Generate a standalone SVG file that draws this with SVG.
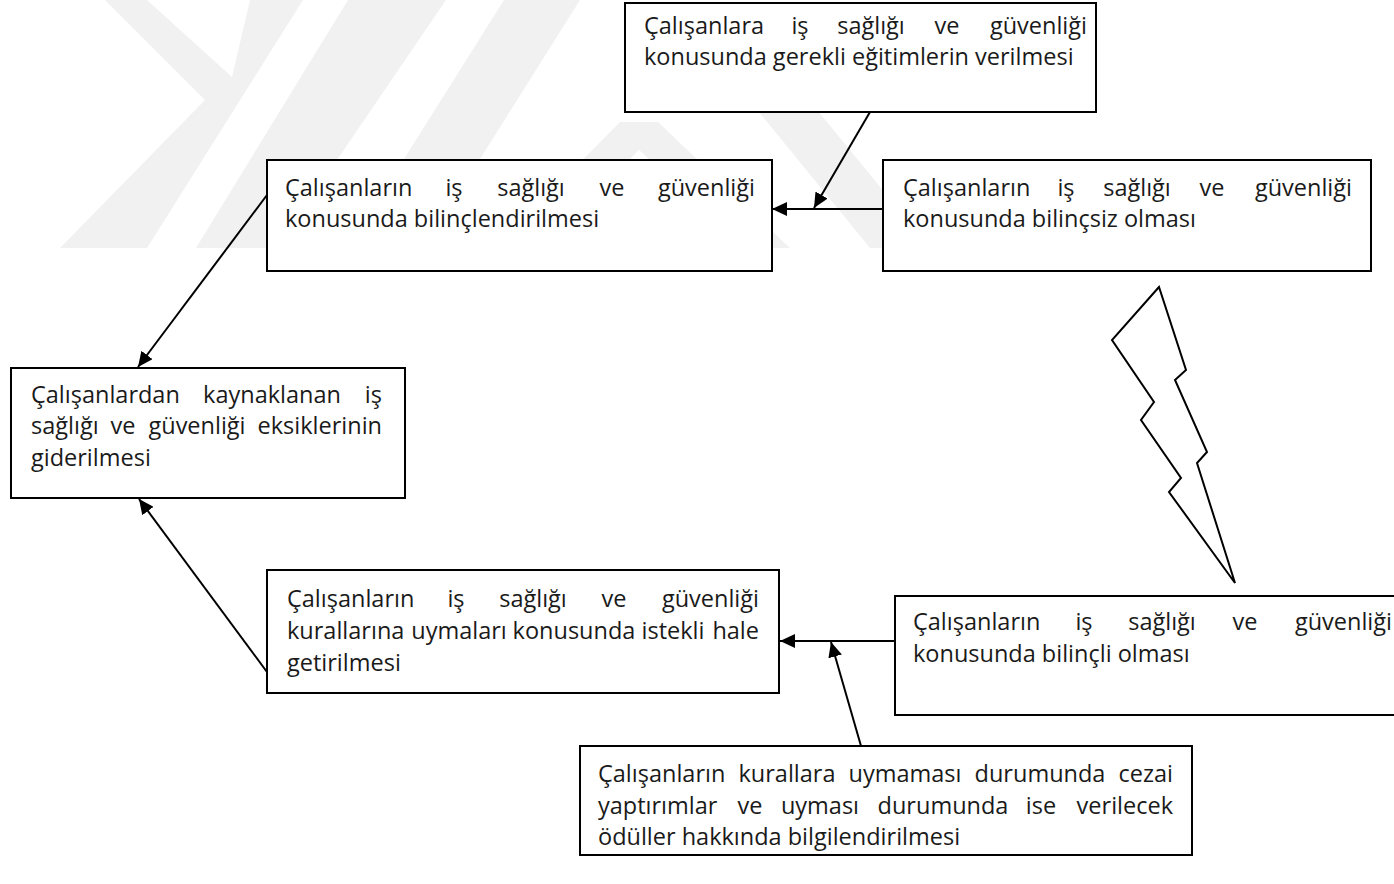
<svg xmlns="http://www.w3.org/2000/svg" width="1394" height="884" viewBox="0 0 1394 884">
  <style>
    .box { fill: #ffffff; stroke: #000000; stroke-width: 2; }
    .t { font-family: "Open Sans", "Liberation Sans", sans-serif; font-size: 23.5px; fill: #1a1a1a; }
    .m { text-anchor: middle; }
    .e { text-anchor: end; }
    .link { fill: none; stroke: #000000; stroke-width: 2; }
    .wm { fill: #f1f1f1; }
  </style>
  <defs>
    <marker id="arrow" markerUnits="userSpaceOnUse" markerWidth="16" markerHeight="14" refX="15" refY="7" orient="auto">
      <path d="M0,0 L15,7 L0,14 z" fill="#000000"/>
    </marker>
  </defs>

  <rect width="1394" height="884" fill="#ffffff"/>

  <!-- faint background emblem -->
  <g id="emblem">
    <polygon class="wm" points="105,0 147,0 232,77 250,0 303,0 147,248 60,248 205,100"/>
    <polygon class="wm" points="348,0 446,0 277,248 196,248"/>
    <polygon class="wm" points="504,0 580,0 424,248 348,248"/>
    <polygon class="wm" points="620,122 658,122 790,248 745,248 639,150 540,248 495,248"/>
    <polygon class="wm" points="700,40 760,40 930,248 870,248"/>
  </g>

  <!-- connectors -->
  <g id="connectors">
    <line class="link" x1="870" y1="112" x2="814" y2="208" marker-end="url(#arrow)"/>
    <line class="link" x1="883" y1="209" x2="772" y2="209" marker-end="url(#arrow)"/>
    <line class="link" x1="267" y1="195" x2="138" y2="367" marker-end="url(#arrow)"/>
    <line class="link" x1="267" y1="672" x2="139" y2="499" marker-end="url(#arrow)"/>
    <line class="link" x1="895" y1="641" x2="780" y2="641" marker-end="url(#arrow)"/>
    <line class="link" x1="861" y1="746" x2="831" y2="642" marker-end="url(#arrow)"/>
  </g>

  <!-- lightning bolt -->
  <g id="bolt">
    <polygon points="1159,287 1112,340 1154,402 1141,420 1181,478 1169,492 1235,583 1197,463 1207,452 1175,380 1186,370" fill="#ffffff" stroke="#000000" stroke-width="2" stroke-linejoin="miter"/>
  </g>

  <g id="node-training">
    <rect class="box" x="625" y="3" width="471" height="109"/>
    <text class="t" y="34"><tspan x="644">Çalışanlara</tspan><tspan class="m" x="800">iş</tspan><tspan class="m" x="871">sağlığı</tspan><tspan class="m" x="947">ve</tspan><tspan class="e" x="1087">güvenliği</tspan></text>
    <text class="t" x="644" y="65">konusunda gerekli eğitimlerin verilmesi</text>
  </g>

  <g id="node-awareness">
    <rect class="box" x="267" y="160" width="505" height="111"/>
    <text class="t" y="196"><tspan x="285">Çalışanların</tspan><tspan class="m" x="454">iş</tspan><tspan class="m" x="531">sağlığı</tspan><tspan class="m" x="612">ve</tspan><tspan class="e" x="755">güvenliği</tspan></text>
    <text class="t" x="285" y="227">konusunda bilinçlendirilmesi</text>
  </g>

  <g id="node-unaware">
    <rect class="box" x="883" y="160" width="488" height="111"/>
    <text class="t" y="196"><tspan x="903">Çalışanların</tspan><tspan class="m" x="1066">iş</tspan><tspan class="m" x="1137">sağlığı</tspan><tspan class="m" x="1212">ve</tspan><tspan class="e" x="1352">güvenliği</tspan></text>
    <text class="t" x="903" y="227">konusunda bilinçsiz olması</text>
  </g>

  <g id="node-resolved">
    <rect class="box" x="11" y="368" width="394" height="130"/>
    <text class="t" y="403"><tspan x="31">Çalışanlardan</tspan><tspan class="m" x="272">kaynaklanan</tspan><tspan class="e" x="382">iş</tspan></text>
    <text class="t" y="434"><tspan x="31">sağlığı</tspan><tspan class="m" x="123">ve</tspan><tspan class="m" x="197">güvenliği</tspan><tspan class="e" x="382">eksiklerinin</tspan></text>
    <text class="t" x="31" y="466">giderilmesi</text>
  </g>

  <g id="node-willing">
    <rect class="box" x="267" y="570" width="512" height="123"/>
    <text class="t" y="607"><tspan x="287">Çalışanların</tspan><tspan class="m" x="456">iş</tspan><tspan class="m" x="533">sağlığı</tspan><tspan class="m" x="614">ve</tspan><tspan class="e" x="759">güvenliği</tspan></text>
    <text class="t" y="639"><tspan x="287">kurallarına</tspan><tspan class="m" x="459">uymaları</tspan><tspan class="m" x="574">konusunda</tspan><tspan class="m" x="673">istekli</tspan><tspan class="e" x="759">hale</tspan></text>
    <text class="t" x="287" y="671">getirilmesi</text>
  </g>

  <g id="node-aware">
    <rect class="box" x="895" y="596" width="520" height="119"/>
    <text class="t" y="630"><tspan x="913">Çalışanların</tspan><tspan class="m" x="1084">iş</tspan><tspan class="m" x="1162">sağlığı</tspan><tspan class="m" x="1245">ve</tspan><tspan class="e" x="1392">güvenliği</tspan></text>
    <text class="t" x="913" y="662">konusunda bilinçli olması</text>
  </g>

  <g id="node-sanctions">
    <rect class="box" x="580" y="746" width="612" height="109"/>
    <text class="t" y="782"><tspan x="598">Çalışanların</tspan><tspan class="m" x="787">kurallara</tspan><tspan class="m" x="905">uymaması</tspan><tspan class="m" x="1040">durumunda</tspan><tspan class="e" x="1173">cezai</tspan></text>
    <text class="t" y="814"><tspan x="598">yaptırımlar</tspan><tspan class="m" x="750">ve</tspan><tspan class="m" x="820">uyması</tspan><tspan class="m" x="943">durumunda</tspan><tspan class="m" x="1041">ise</tspan><tspan class="e" x="1173">verilecek</tspan></text>
    <text class="t" x="598" y="845">ödüller hakkında bilgilendirilmesi</text>
  </g>
</svg>
